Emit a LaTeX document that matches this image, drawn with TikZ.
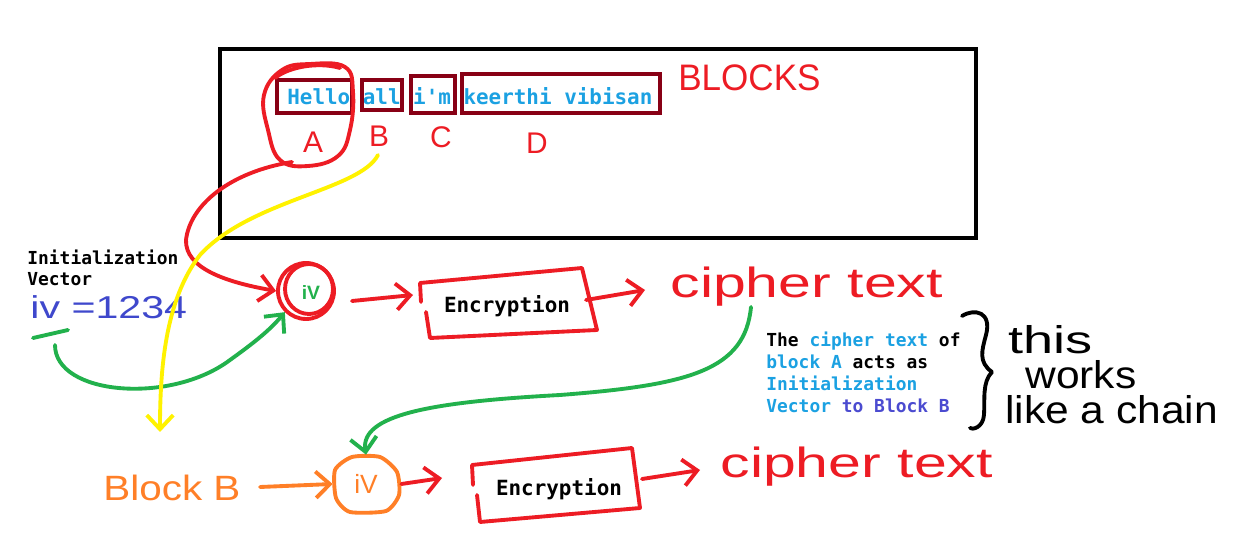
\documentclass[tikz,border=0pt]{standalone}
\usepackage{fontspec}
\setmainfont{Liberation Sans}
\setmonofont{DejaVu Sans Mono}
\usetikzlibrary{arrows.meta}
\definecolor{pred}{HTML}{ED1C24}
\definecolor{dred}{HTML}{880015}
\definecolor{pgreen}{HTML}{22B14C}
\definecolor{pyellow}{HTML}{FFF200}
\definecolor{porange}{HTML}{FF7F27}
\definecolor{pblue}{HTML}{3F48CC}
\definecolor{tblue}{HTML}{1BA1E2}
\definecolor{tpurple}{HTML}{4B4BD0}
\begin{document}
\begin{tikzpicture}[x=0.02cm,y=-0.02cm,
  hand/.style={line width=2.2pt, line cap=round, line join=round},
  tip/.style={-{Straight Barb[length=8pt,width=15pt]}},
  mono/.style={font=\fontsize{11.9}{14}\selectfont\ttfamily\bfseries, inner sep=0pt},
  smono/.style={font=\fontsize{10.2}{12.5}\selectfont\ttfamily\bfseries, inner sep=0pt},
  blk/.style={draw=dred, line width=2.2pt},
  script/.style={inner sep=0pt, transform shape},
]
\useasboundingbox (0,0) rectangle (1252,550);
\fill[white] (0,0) rectangle (1252,550);

% top panel
\draw[line width=1.8pt] (220,49) rectangle (976,238);
\node[mono, anchor=west, text=tblue] (sent) at (287,96) {Hello all i'm keerthi vibisan};
\draw[blk] (277,80) rectangle (352,113);
\draw[blk] (362,80) rectangle (402,110);
\draw[blk] (411,76) rectangle (455,113);
\draw[blk] (462,74) rectangle (660,113);
\node[script, text=pred, font=\fontsize{21}{21}\selectfont, anchor=west, xscale=0.95] (blocks) at (678,78) {BLOCKS};
\node[script, text=pred, font=\fontsize{17}{17}\selectfont] (lA) at (313,142) {A};
\node[script, text=pred, font=\fontsize{17}{17}\selectfont] (lB) at (379,136) {B};
\node[script, text=pred, font=\fontsize{17}{17}\selectfont] (lC) at (441,137) {C};
\node[script, text=pred, font=\fontsize{17}{17}\selectfont] (lD) at (537,143) {D};
% scribble around Hello
\draw[hand, pred] plot[smooth cycle, tension=0.7] coordinates {(282,70) (310,64) (345,67) (353,92) (350,130) (338,156) (308,166) (280,160) (268,130) (264,95)};
\draw[hand, pred] (275,78) .. controls (290,66) and (320,62) .. (340,68);

% Initialization vector
\node[smono, anchor=west] (initvec) at (27,257) {Initialization};
\node[smono, anchor=west] (initvec2) at (27,279) {Vector};
\node[script, text=pblue, font=\fontsize{18}{18}\selectfont, anchor=west, xscale=1.3] (ivval) at (30,307) {iv =1234};
\draw[hand, pgreen] (33,338) -- (68,330);

% iv circle A
\node[circle, draw=pred, line width=2.2pt, minimum size=56*0.02cm, inner sep=0pt] (ivA) at (306,291) {};
\draw[hand, pred] (309,289) circle[x radius=24, y radius=25];
\node[text=pgreen, font=\fontsize{11}{11}\selectfont\bfseries] (ivAt) at (311,293) {iV};

% encryption box A
\node[mono] (encA) at (507,306) {Encryption};
\draw[hand, pred] (421,302) -- (420,283) -- (582,268) -- (597,330) -- (430,338) -- (426,312);
\coordinate (ctAin) at (645,290);
\node[script, text=pred, font=\fontsize{24}{24}\selectfont, anchor=west, xscale=1.4] (ctA) at (670,287) {cipher text};

% arrows row A
\coordinate (redstart) at (292,162);
\draw[hand, pred, tip] (redstart) .. controls (230,172) and (190,205) .. (186,240) .. controls (185,268) and (225,282) .. (ivA.west);
\draw[hand, pred, tip] (352,301) -- (413,295);
\draw[hand, pred, tip] (586,300) -- (ctAin);
\coordinate (greenstart) at (55,345);
\draw[hand, pgreen, tip] (greenstart) .. controls (55,395) and (170,405) .. (230,360) .. controls (255,342) and (270,330) .. (ivA.south west);

% yellow arrow
\coordinate (ystart) at (378,155);
\node[script, text=porange, font=\fontsize{20}{20}\selectfont, anchor=west, xscale=1.15] (blockB) at (103,488) {Block B};
\coordinate (yend) at (160,432);
\draw[hand, pyellow, tip] (ystart) .. controls (360,190) and (250,200) .. (200,255) .. controls (165,300) and (160,370) .. (yend);

% iv circle B
\node[minimum width=66*0.02cm, minimum height=58*0.02cm, inner sep=0pt] (ivB) at (366,484) {};
\draw[hand, porange] plot[smooth cycle, tension=0.4] coordinates {(352,457) (380,457) (397,472) (399,495) (386,511) (350,512) (336,498) (335,470)};
\node[text=porange, font=\fontsize{15}{15}\selectfont] (ivBt) at (366,484) {iV};
\draw[hand, porange, tip] (260,487) -- (ivB.west);

% green chain arrow
\coordinate (gstart) at (751,307);
\draw[hand, pgreen, tip] (gstart) .. controls (745,370) and (690,385) .. (560,395) .. controls (430,402) and (360,415) .. (ivB.north);

% encryption box B
\node[mono] (encB) at (559,489) {Encryption};
\draw[hand, pred] (473,485) -- (472,465) -- (632,448) -- (640,508) -- (480,522) -- (477,495);
\draw[hand, pred, tip] (ivB.east) ++(2,0) -- (442,478);
\coordinate (ctBin) at (700,470);
\draw[hand, pred, tip] (642,479) -- (ctBin);
\node[script, text=pred, font=\fontsize{24}{24}\selectfont, anchor=west, xscale=1.4] (ctB) at (720,467) {cipher text};

% explanation
\node[smono, anchor=north west, align=left] (expl) at (766,332) {The \textcolor{tblue}{cipher text} of\\\textcolor{tblue}{block A} acts as\\\textcolor{tblue}{Initialization}\\\textcolor{tblue}{Vector} \textcolor{tpurple}{to Block B}};
\draw[hand] (962,316) .. controls (975,308) and (992,312) .. (986,335) .. controls (982,350) and (978,362) .. (992,372) .. controls (982,382) and (985,400) .. (984,415) .. controls (983,428) and (972,430) .. (970,428);
\node[script, font=\fontsize{22}{22}\selectfont, anchor=west, xscale=1.4] (chain1) at (1008,340) {this};
\node[script, font=\fontsize{22}{22}\selectfont, anchor=west, xscale=1.1] (chain2) at (1025,375) {works};
\node[script, font=\fontsize{22}{22}\selectfont, anchor=west, xscale=1.1] (chain3) at (1005,410) {like a chain};
\end{tikzpicture}
\end{document}
